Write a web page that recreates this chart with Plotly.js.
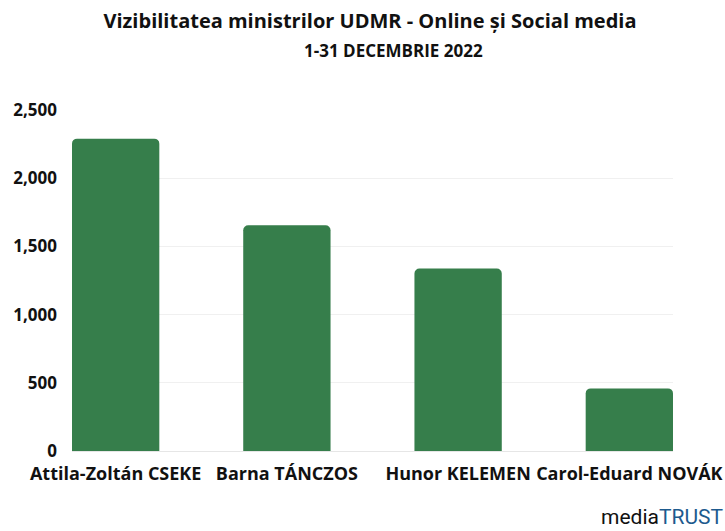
<!DOCTYPE html>
<html>
<head>
<meta charset="utf-8">
<script src="https://cdn.plot.ly/plotly-3.0.1.min.js"></script>
<style>
  html, body { margin: 0; padding: 0; background: #fff; }
  #chart { width: 725px; height: 531px; }
</style>
</head>
<body>
<div id="chart"></div>
<script>
// Vizibilitatea ministrilor UDMR, decembrie 2022
const ministers = ['Attila-Zoltán CSEKE', 'Barna TÁNCZOS', 'Hunor KELEMEN', 'Carol-Eduard NOVÁK'];
const visibility = [2290, 1655, 1338, 459];
const yTicks = [0, 500, 1000, 1500, 2000, 2500];
const yTickLabels = ['0', '500', '1,000', '1,500', '2,000', '2,500'];

const barColor = '#367e4b';

const data = [{
    x: ministers,
    y: visibility,
    type: 'bar',
    width: 0.51,
    marker: {color: barColor, cornerradius: 5},
    hoverinfo: 'x+y'
}];

const layout = {
    width: 725,
    height: 531,
    margin: {l: 72, r: 52, t: 110, b: 80},
    paper_bgcolor: '#fff',
    plot_bgcolor: '#fff',
    showlegend: false,
    font: {family: 'Open Sans, sans-serif', color: '#111'},
    title: {
        text: '<b>Vizibilitatea ministrilor UDMR - Online și Social media</b>',
        font: {family: 'Open Sans, sans-serif', size: 20, color: '#111'},
        x: 370 / 725,
        xanchor: 'center',
        y: 1 - 21 / 531,
        yanchor: 'middle',
        yref: 'container'
    },
    annotations: [
        {
            text: '<b>1-31 DECEMBRIE 2022</b>',
            xref: 'paper', yref: 'paper',
            x: (393 - 72) / 601, y: (451 - 51) / 341,
            xanchor: 'center', yanchor: 'middle',
            showarrow: false,
            font: {family: 'Open Sans, sans-serif', size: 17, color: '#111'}
        },
        {
            text: 'media<span style="color:#1d5a8e">TRUST</span>',
            xref: 'paper', yref: 'paper',
            x: (725 - 72) / 601, y: (451 - 517) / 341,
            xanchor: 'right', yanchor: 'middle',
            showarrow: false,
            font: {family: 'Roboto, sans-serif', size: 21, color: '#111'}
        }
    ],
    xaxis: {
        type: 'category',
        range: [-0.255, 3.255],
        showgrid: false,
        showline: false,
        zeroline: false,
        ticks: '',
        ticklabelstandoff: 10,
        tickfont: {family: 'Open Sans, sans-serif', size: 18, color: '#111', weight: 'bold'},
        fixedrange: true
    },
    yaxis: {
        range: [0, 2500],
        tickvals: yTicks,
        ticktext: yTickLabels,
        showgrid: true,
        gridcolor: '#f0f0f0',
        gridwidth: 1,
        zeroline: true,
        zerolinecolor: '#e6e6e6',
        zerolinewidth: 1,
        showline: false,
        ticks: '',
        ticklabelstandoff: 14,
        tickfont: {family: 'Open Sans, sans-serif', size: 17, color: '#111', weight: 'bold'},
        fixedrange: true
    }
};

Plotly.newPlot('chart', data, layout, {displayModeBar: false, responsive: false});
</script>
</body>
</html>
